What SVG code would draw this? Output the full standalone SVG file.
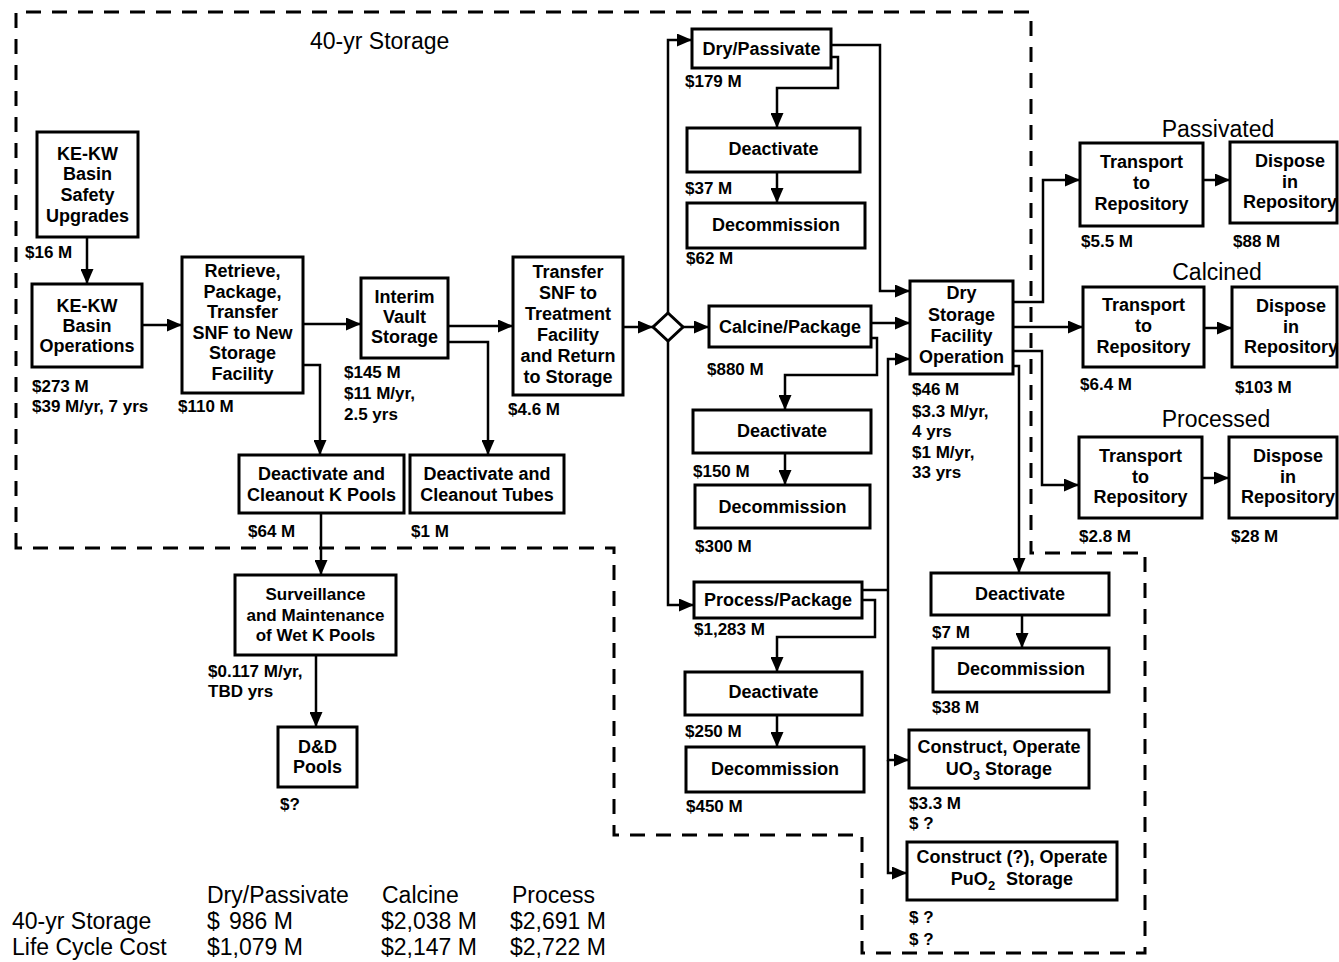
<svg xmlns="http://www.w3.org/2000/svg" width="1339" height="962" viewBox="0 0 1339 962">
<defs>
<marker id="ah" viewBox="0 0 15 13" refX="15" refY="6.5" markerWidth="15" markerHeight="13" markerUnits="userSpaceOnUse" orient="auto">
<path d="M0,0 L15,6.5 L0,13 z" fill="#000"/>
</marker>
<style>
.box{fill:#fff;stroke:#000;stroke-width:3}
.t{font-family:"Liberation Sans",Arial,sans-serif;font-weight:bold;font-size:18px;fill:#000;text-anchor:middle}
.l{font-family:"Liberation Sans",Arial,sans-serif;font-weight:bold;font-size:17px;fill:#000}
.h{font-family:"Liberation Sans",Arial,sans-serif;font-size:23px;fill:#000}
.hc{font-family:"Liberation Sans",Arial,sans-serif;font-size:23px;fill:#000;text-anchor:middle}
.c{fill:none;stroke:#000;stroke-width:2.5}
.a{fill:none;stroke:#000;stroke-width:2.5;marker-end:url(#ah)}
.dash{fill:none;stroke:#000;stroke-width:3;stroke-dasharray:15 11}
</style>
</defs>
<rect x="0" y="0" width="1339" height="962" fill="#fff"/>

<g id="boundary">
<path class="dash" d="M16,548 V12 H1031 V553 H1145 V953 H862 V835 H614 V548 Z"/>
<text class="h" x="310" y="49">40-yr Storage</text>
</g>

<g id="connectors">
<path class="a" d="M87,237 V284"/>
<path class="a" d="M142,325 H182"/>
<path class="a" d="M303,324 H361"/>
<path class="a" d="M303,365 H320 V455"/>
<path class="a" d="M448,326 H513"/>
<path class="a" d="M448,342 H488 V455"/>
<path class="a" d="M623,327 H653"/>
<path class="a" d="M683,327 H709"/>
<path class="a" d="M668,313 V40 H692"/>
<path class="a" d="M668,341 V605 H694"/>
<path class="a" d="M831,45 H880 V291 H910"/>
<path class="a" d="M831,57 H838 V88 H777 V128"/>
<path class="a" d="M777,172 V203"/>
<path class="a" d="M871,323 H910"/>
<path class="a" d="M871,338 H877 V375 H785 V410"/>
<path class="a" d="M785,453 V485"/>
<path class="c" d="M862,590 H888"/>
<path class="a" d="M888,590 V359 H910"/>
<path class="a" d="M888,590 V760 H909"/>
<path class="a" d="M888,760 V873 H907"/>
<path class="a" d="M862,600 H875 V637 H777 V672"/>
<path class="a" d="M777,715 V747"/>
<path class="a" d="M1013,302 H1043 V180 H1080"/>
<path class="a" d="M1013,327 H1083"/>
<path class="a" d="M1013,351 H1042 V485 H1079"/>
<path class="a" d="M1013,366 H1019 V573"/>
<path class="a" d="M1203,180 H1230"/>
<path class="a" d="M1204,328 H1232"/>
<path class="a" d="M1202,478 H1229"/>
<path class="a" d="M1022,615 V648"/>
<path class="a" d="M321,513 V575"/>
<path class="a" d="M316,655 V727"/>
</g>

<g id="diamond">
<path class="box" d="M668,313 L683,327 L668,341 L653,327 Z"/>
</g>

<g id="n-safety">
<rect class="box" x="37" y="132" width="101" height="105"/>
<text class="t" x="87.5" y="160">KE-KW</text>
<text class="t" x="87.5" y="180">Basin</text>
<text class="t" x="87.5" y="201">Safety</text>
<text class="t" x="87.5" y="222">Upgrades</text>
<text class="l" x="25" y="258">$16 M</text>
</g>

<g id="n-basinops">
<rect class="box" x="32" y="284" width="110" height="83"/>
<text class="t" x="87" y="312">KE-KW</text>
<text class="t" x="87" y="332">Basin</text>
<text class="t" x="87" y="352">Operations</text>
<text class="l" x="32" y="392">$273 M</text>
<text class="l" x="32" y="412">$39 M/yr, 7 yrs</text>
</g>

<g id="n-retrieve">
<rect class="box" x="182" y="257" width="121" height="136"/>
<text class="t" x="242.5" y="277">Retrieve,</text>
<text class="t" x="242.5" y="298">Package,</text>
<text class="t" x="242.5" y="318">Transfer</text>
<text class="t" x="242.5" y="339">SNF to New</text>
<text class="t" x="242.5" y="359">Storage</text>
<text class="t" x="242.5" y="380">Facility</text>
<text class="l" x="178" y="412">$110 M</text>
</g>

<g id="n-interim">
<rect class="box" x="361" y="278" width="87" height="80"/>
<text class="t" x="404.5" y="303">Interim</text>
<text class="t" x="404.5" y="323">Vault</text>
<text class="t" x="404.5" y="343">Storage</text>
<text class="l" x="344" y="378">$145 M</text>
<text class="l" x="344" y="399">$11 M/yr,</text>
<text class="l" x="344" y="420">2.5 yrs</text>
</g>

<g id="n-transfer">
<rect class="box" x="513" y="257" width="110" height="138"/>
<text class="t" x="568" y="278">Transfer</text>
<text class="t" x="568" y="299">SNF to</text>
<text class="t" x="568" y="320">Treatment</text>
<text class="t" x="568" y="341">Facility</text>
<text class="t" x="568" y="362">and Return</text>
<text class="t" x="568" y="383">to Storage</text>
<text class="l" x="508" y="415">$4.6 M</text>
</g>

<g id="n-kpools">
<rect class="box" x="239" y="455" width="165" height="58"/>
<text class="t" x="321.5" y="480">Deactivate and</text>
<text class="t" x="321.5" y="501">Cleanout K Pools</text>
<text class="l" x="248" y="537">$64 M</text>
</g>

<g id="n-tubes">
<rect class="box" x="410" y="455" width="154" height="58"/>
<text class="t" x="487" y="480">Deactivate and</text>
<text class="t" x="487" y="501">Cleanout Tubes</text>
<text class="l" x="411" y="537">$1 M</text>
</g>

<g id="n-surveillance">
<rect class="box" x="235" y="575" width="161" height="80"/>
<text class="t" x="315.5" y="600" style="font-size:17px">Surveillance</text>
<text class="t" x="315.5" y="621" style="font-size:17px">and Maintenance</text>
<text class="t" x="315.5" y="641" style="font-size:17px">of Wet K Pools</text>
<text class="l" x="208" y="677">$0.117 M/yr,</text>
<text class="l" x="208" y="697">TBD yrs</text>
</g>

<g id="n-ddpools">
<rect class="box" x="278" y="727" width="79" height="60"/>
<text class="t" x="317.5" y="753">D&amp;D</text>
<text class="t" x="317.5" y="773">Pools</text>
<text class="l" x="280" y="810">$?</text>
</g>

<g id="n-drypassivate">
<rect class="box" x="692" y="29" width="139" height="39"/>
<text class="t" x="761.5" y="55">Dry/Passivate</text>
<text class="l" x="685" y="87">$179 M</text>
</g>

<g id="n-deact1">
<rect class="box" x="687" y="128" width="173" height="44"/>
<text class="t" x="773.5" y="155">Deactivate</text>
<text class="l" x="685" y="194">$37 M</text>
</g>

<g id="n-decom1">
<rect class="box" x="687" y="203" width="178" height="45"/>
<text class="t" x="776" y="231">Decommission</text>
<text class="l" x="686" y="264">$62 M</text>
</g>

<g id="n-calcine">
<rect class="box" x="709" y="306" width="162" height="41"/>
<text class="t" x="790" y="333">Calcine/Package</text>
<text class="l" x="707" y="375">$880 M</text>
</g>

<g id="n-deact2">
<rect class="box" x="693" y="410" width="178" height="43"/>
<text class="t" x="782" y="437">Deactivate</text>
<text class="l" x="693" y="477">$150 M</text>
</g>

<g id="n-decom2">
<rect class="box" x="695" y="485" width="175" height="43"/>
<text class="t" x="782.5" y="513">Decommission</text>
<text class="l" x="695" y="552">$300 M</text>
</g>

<g id="n-process">
<rect class="box" x="694" y="582" width="168" height="36"/>
<text class="t" x="778" y="606">Process/Package</text>
<text class="l" x="694" y="635">$1,283 M</text>
</g>

<g id="n-deact3">
<rect class="box" x="685" y="672" width="177" height="43"/>
<text class="t" x="773.5" y="698">Deactivate</text>
<text class="l" x="685" y="737">$250 M</text>
</g>

<g id="n-decom3">
<rect class="box" x="686" y="747" width="178" height="45"/>
<text class="t" x="775" y="775">Decommission</text>
<text class="l" x="686" y="812">$450 M</text>
</g>

<g id="n-drystorage">
<rect class="box" x="910" y="281" width="103" height="93"/>
<text class="t" x="961.5" y="299">Dry</text>
<text class="t" x="961.5" y="321">Storage</text>
<text class="t" x="961.5" y="342">Facility</text>
<text class="t" x="961.5" y="363">Operation</text>
<text class="l" x="912" y="395">$46 M</text>
<text class="l" x="912" y="417">$3.3 M/yr,</text>
<text class="l" x="912" y="437">4 yrs</text>
<text class="l" x="912" y="458">$1 M/yr,</text>
<text class="l" x="912" y="478">33 yrs</text>
</g>

<g id="n-deact4">
<rect class="box" x="931" y="573" width="178" height="42"/>
<text class="t" x="1020" y="600">Deactivate</text>
<text class="l" x="932" y="638">$7 M</text>
</g>

<g id="n-decom4">
<rect class="box" x="933" y="648" width="176" height="44"/>
<text class="t" x="1021" y="675">Decommission</text>
<text class="l" x="932" y="713">$38 M</text>
</g>

<g id="n-uo3">
<rect class="box" x="909" y="730" width="180" height="58"/>
<text class="t" x="999" y="753">Construct, Operate</text>
<text class="t" x="999" y="775">UO<tspan font-size="13" dy="5">3</tspan><tspan dy="-5"> Storage</tspan></text>
<text class="l" x="909" y="809">$3.3 M</text>
<text class="l" x="909" y="829">$ ?</text>
</g>

<g id="n-puo2">
<rect class="box" x="907" y="842" width="210" height="58"/>
<text class="t" x="1012" y="863">Construct (?), Operate</text>
<text class="t" x="1012" y="885">PuO<tspan font-size="13" dy="5">2</tspan><tspan dy="-5" dx="6"> Storage</tspan></text>
<text class="l" x="909" y="923">$ ?</text>
<text class="l" x="909" y="945">$ ?</text>
</g>

<g id="passivated">
<text class="hc" x="1218" y="137">Passivated</text>
</g>
<g id="n-transport-p">
<rect class="box" x="1080" y="143" width="123" height="83"/>
<text class="t" x="1141.5" y="168">Transport</text>
<text class="t" x="1141.5" y="189">to</text>
<text class="t" x="1141.5" y="210">Repository</text>
<text class="l" x="1081" y="247">$5.5 M</text>
</g>
<g id="n-dispose-p">
<rect class="box" x="1230" y="142" width="107" height="81"/>
<text class="t" x="1290" y="167">Dispose</text>
<text class="t" x="1290" y="188">in</text>
<text class="t" x="1290" y="208">Repository</text>
<text class="l" x="1233" y="247">$88 M</text>
</g>

<g id="calcined">
<text class="hc" x="1217" y="280">Calcined</text>
</g>
<g id="n-transport-c">
<rect class="box" x="1083" y="287" width="121" height="80"/>
<text class="t" x="1143.5" y="311">Transport</text>
<text class="t" x="1143.5" y="332">to</text>
<text class="t" x="1143.5" y="353">Repository</text>
<text class="l" x="1080" y="390">$6.4 M</text>
</g>
<g id="n-dispose-c">
<rect class="box" x="1232" y="287" width="105" height="80"/>
<text class="t" x="1291" y="312">Dispose</text>
<text class="t" x="1291" y="333">in</text>
<text class="t" x="1291" y="353">Repository</text>
<text class="l" x="1235" y="393">$103 M</text>
</g>

<g id="processed">
<text class="hc" x="1216" y="427">Processed</text>
</g>
<g id="n-transport-r">
<rect class="box" x="1079" y="437" width="123" height="81"/>
<text class="t" x="1140.5" y="462">Transport</text>
<text class="t" x="1140.5" y="483">to</text>
<text class="t" x="1140.5" y="503">Repository</text>
<text class="l" x="1079" y="542">$2.8 M</text>
</g>
<g id="n-dispose-r">
<rect class="box" x="1229" y="437" width="108" height="81"/>
<text class="t" x="1288" y="462">Dispose</text>
<text class="t" x="1288" y="483">in</text>
<text class="t" x="1288" y="503">Repository</text>
<text class="l" x="1231" y="542">$28 M</text>
</g>

<g id="summary-table">
<text class="h" x="207" y="903">Dry/Passivate</text>
<text class="h" x="382" y="903">Calcine</text>
<text class="h" x="512" y="903">Process</text>
<text class="h" x="12" y="929">40-yr Storage</text>
<text class="h" x="207" y="929">$<tspan x="229">986 M</tspan></text>
<text class="h" x="381" y="929">$2,038 M</text>
<text class="h" x="510" y="929">$2,691 M</text>
<text class="h" x="12" y="955">Life Cycle Cost</text>
<text class="h" x="207" y="955">$1,079 M</text>
<text class="h" x="381" y="955">$2,147 M</text>
<text class="h" x="510" y="955">$2,722 M</text>
</g>
</svg>
